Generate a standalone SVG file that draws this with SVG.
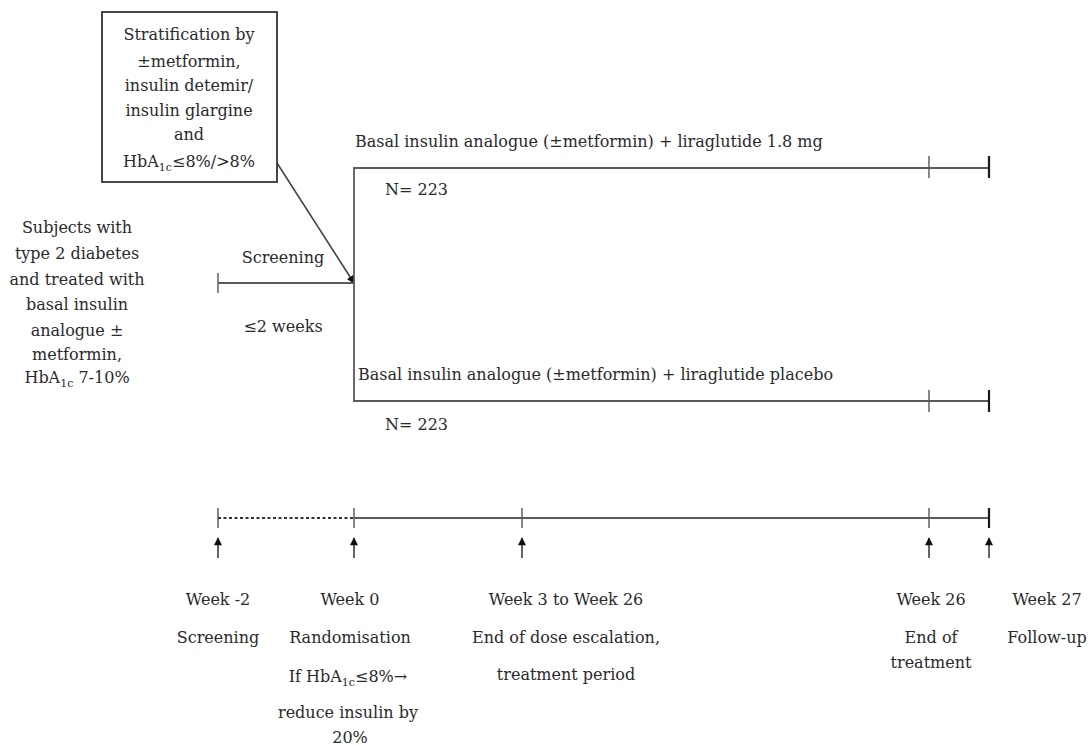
<svg xmlns="http://www.w3.org/2000/svg" width="1092" height="746" viewBox="0 0 1092 746">
<style>
text { font-family: "DejaVu Serif", "Liberation Serif", serif; font-size: 16px; fill: #2a2a2a; }
.c { text-anchor: middle; }
.ln { stroke: #5a5a5a; stroke-width: 1.8; fill: none; }
.tk { stroke: #555; stroke-width: 1.4; }
.tkb { stroke: #1a1a1a; stroke-width: 2.2; }
.dot { stroke: #333; stroke-width: 2.2; stroke-dasharray: 3 2.5; fill: none; }
.ar { stroke: #333; stroke-width: 1.5; marker-end: url(#ah); }
.sub { font-size: 11px; }
</style>
<defs>
<marker id="ah" viewBox="0 0 10 10" refX="9" refY="5" markerWidth="9" markerHeight="8" orient="auto" markerUnits="userSpaceOnUse"><path d="M0,0 L10,5 L0,10 z" fill="#111"/></marker>
<marker id="ahs" viewBox="0 0 10 10" refX="9" refY="5" markerWidth="8" markerHeight="8" orient="auto" markerUnits="userSpaceOnUse"><path d="M0,0 L10,5 L0,10 z" fill="#111"/></marker>
</defs>
<rect width="1092" height="746" fill="#fff"/>

<g id="connectors">
  <line x1="277" y1="163" x2="354" y2="283" stroke="#444" stroke-width="1.6" marker-end="url(#ahs)"/>
  <line class="ln" x1="218" y1="283" x2="354" y2="283"/>
  <line class="tk" x1="218" y1="273" x2="218" y2="293"/>
  <path class="ln" d="M989,168 H354 V401 H989"/>
  <line class="tk" x1="929" y1="156" x2="929" y2="178"/>
  <line class="tkb" x1="989" y1="156" x2="989" y2="178"/>
  <line class="tk" x1="929" y1="390" x2="929" y2="412"/>
  <line class="tkb" x1="989" y1="390" x2="989" y2="412"/>
  <line class="dot" x1="218" y1="518" x2="354" y2="518"/>
  <line class="ln" x1="354" y1="518" x2="989" y2="518"/>
  <line class="tk" x1="218" y1="508" x2="218" y2="528"/>
  <line class="tk" x1="354" y1="508" x2="354" y2="528"/>
  <line class="tk" x1="522" y1="508" x2="522" y2="528"/>
  <line class="tk" x1="929" y1="508" x2="929" y2="528"/>
  <line class="tkb" x1="989" y1="508" x2="989" y2="528"/>
  <line class="ar" x1="218" y1="558" x2="218" y2="538"/>
  <line class="ar" x1="354" y1="558" x2="354" y2="538"/>
  <line class="ar" x1="522" y1="558" x2="522" y2="538"/>
  <line class="ar" x1="929" y1="558" x2="929" y2="538"/>
  <line class="ar" x1="989" y1="558" x2="989" y2="538"/>
</g>

<g id="stratification">
  <rect x="102" y="12" width="175" height="170" fill="#fff" stroke="#333" stroke-width="1.8"/>
  <text class="c" x="189" y="40">Stratification by</text>
  <text class="c" x="189" y="67">±metformin,</text>
  <text class="c" x="189" y="91">insulin detemir/</text>
  <text class="c" x="189" y="116">insulin glargine</text>
  <text class="c" x="189" y="140">and</text>
  <text class="c" x="189" y="167">HbA<tspan class="sub" dy="4">1c</tspan><tspan dy="-4">≤8%/&gt;8%</tspan></text>
</g>

<g id="subjects">
  <text class="c" x="77" y="233">Subjects with</text>
  <text class="c" x="77" y="259">type 2 diabetes</text>
  <text class="c" x="77" y="285">and treated with</text>
  <text class="c" x="77" y="310">basal insulin</text>
  <text class="c" x="77" y="336">analogue ±</text>
  <text class="c" x="77" y="360">metformin,</text>
  <text class="c" x="77" y="383">HbA<tspan class="sub" dy="4">1c</tspan><tspan dy="-4"> 7-10%</tspan></text>
</g>

<g id="screening">
  <text class="c" x="283" y="263">Screening</text>
  <text class="c" x="283" y="332">≤2 weeks</text>
</g>

<g id="arm-liraglutide">
  <text x="355" y="147">Basal insulin analogue (±metformin) + liraglutide 1.8 mg</text>
  <text x="385" y="195">N= 223</text>
</g>

<g id="arm-placebo">
  <text x="358" y="380">Basal insulin analogue (±metformin) + liraglutide placebo</text>
  <text x="385" y="430">N= 223</text>
</g>

<g id="week-minus2">
  <text class="c" x="218" y="605">Week -2</text>
  <text class="c" x="218" y="643">Screening</text>
</g>
<g id="week-0">
  <text class="c" x="350" y="605">Week 0</text>
  <text class="c" x="350" y="643">Randomisation</text>
  <text class="c" x="348" y="682">If HbA<tspan class="sub" dy="4">1c</tspan><tspan dy="-4">≤8%→</tspan></text>
  <text class="c" x="348" y="718">reduce insulin by</text>
  <text class="c" x="350" y="743">20%</text>
</g>
<g id="week-3-26">
  <text class="c" x="566" y="605">Week 3 to Week 26</text>
  <text class="c" x="566" y="643">End of dose escalation,</text>
  <text class="c" x="566" y="680">treatment period</text>
</g>
<g id="week-26">
  <text class="c" x="931" y="605">Week 26</text>
  <text class="c" x="931" y="643">End of</text>
  <text class="c" x="931" y="668">treatment</text>
</g>
<g id="week-27">
  <text class="c" x="1047" y="605">Week 27</text>
  <text class="c" x="1047" y="643">Follow-up</text>
</g>
</svg>
